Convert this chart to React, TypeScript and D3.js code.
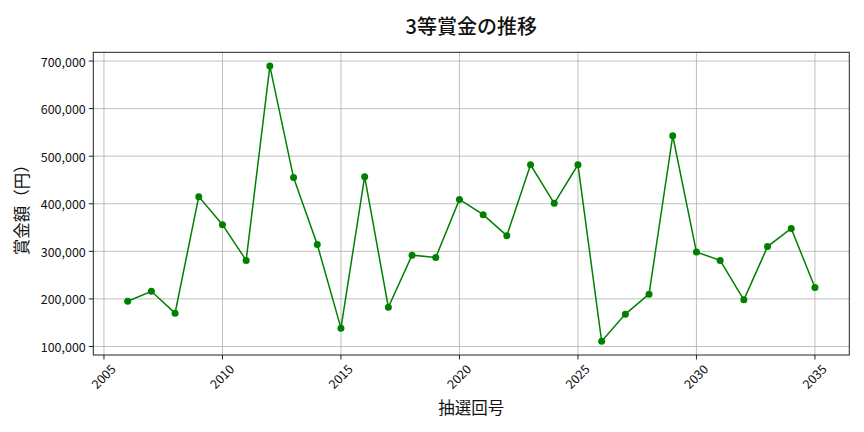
import { useRef, useEffect } from 'react';
import * as d3 from 'd3';

const years = [
  2006, 2007, 2008, 2009, 2010, 2011, 2012, 2013, 2014, 2015,
  2016, 2017, 2018, 2019, 2020, 2021, 2022, 2023, 2024, 2025,
  2026, 2027, 2028, 2029, 2030, 2031, 2032, 2033, 2034, 2035,
];
const prizes = [
  195000, 216000, 170000, 415000, 356000, 281000, 689500, 455000, 314500, 138500,
  457000, 182500, 292000, 287000, 409000, 377000, 333000, 482000, 401000, 482000,
  111000, 168000, 210000, 543000, 298500, 281000, 198000, 310000, 348000, 224000,
];
const xTicks = [2005, 2010, 2015, 2020, 2025, 2030, 2035];
const yTicks = [100000, 200000, 300000, 400000, 500000, 600000, 700000];

const W = 864;
const H = 432;
const M = { left: 93.3, right: 849.3, top: 52.3, bottom: 355 };
const FONT = '"Noto Sans CJK JP", "Noto Sans", sans-serif';

export default function App() {
  const svgRef = useRef<SVGSVGElement>(null);

  useEffect(() => {
    const svg = d3.select(svgRef.current);
    svg.selectAll('*').remove();

    const [xMin, xMax] = d3.extent(years) as [number, number];
    const xPad = (xMax - xMin) * 0.05;
    const x = d3
      .scaleLinear()
      .domain([xMin - xPad, xMax + xPad])
      .range([M.left, M.right]);

    const [yMin, yMax] = d3.extent(prizes) as [number, number];
    const yPad = (yMax - yMin) * 0.05;
    const y = d3
      .scaleLinear()
      .domain([yMin - yPad, yMax + yPad])
      .range([M.bottom, M.top]);

    svg.append('rect').attr('width', W).attr('height', H).attr('fill', '#fff');

    // Grid
    const grid = svg.append('g');
    xTicks.forEach((t) => {
      grid
        .append('line')
        .attr('x1', x(t))
        .attr('x2', x(t))
        .attr('y1', M.top)
        .attr('y2', M.bottom)
        .attr('stroke', '#b0b0b0')
        .attr('stroke-width', 0.8);
    });
    yTicks.forEach((t) => {
      grid
        .append('line')
        .attr('x1', M.left)
        .attr('x2', M.right)
        .attr('y1', y(t))
        .attr('y2', y(t))
        .attr('stroke', '#b0b0b0')
        .attr('stroke-width', 0.8);
    });

    // Line + markers
    const line = d3
      .line<number>()
      .x((_, i) => x(years[i]))
      .y((d) => y(d));
    svg
      .append('path')
      .attr('d', line(prizes))
      .attr('fill', 'none')
      .attr('stroke', '#008000')
      .attr('stroke-width', 1.5);
    prizes.forEach((v, i) => {
      svg
        .append('circle')
        .attr('cx', x(years[i]))
        .attr('cy', y(v))
        .attr('r', 3.5)
        .attr('fill', '#008000');
    });

    // Frame
    svg
      .append('rect')
      .attr('x', M.left)
      .attr('y', M.top)
      .attr('width', M.right - M.left)
      .attr('height', M.bottom - M.top)
      .attr('fill', 'none')
      .attr('stroke', '#222')
      .attr('stroke-width', 1);

    // X ticks
    xTicks.forEach((t) => {
      svg
        .append('line')
        .attr('x1', x(t))
        .attr('x2', x(t))
        .attr('y1', M.bottom)
        .attr('y2', M.bottom + 4.5)
        .attr('stroke', '#222')
        .attr('stroke-width', 1);
      svg
        .append('text')
        .attr('transform', `translate(${x(t) - 1},${M.bottom + 21}) rotate(-45)`)
        .attr('text-anchor', 'middle')
        .attr('dominant-baseline', 'central')
        .attr('font-family', FONT)
        .attr('font-size', 12.5)
        .attr('fill', '#111')
        .text(String(t));
    });

    // Y ticks
    const fmt = d3.format(',');
    yTicks.forEach((t) => {
      svg
        .append('line')
        .attr('x1', M.left - 4.5)
        .attr('x2', M.left)
        .attr('y1', y(t))
        .attr('y2', y(t))
        .attr('stroke', '#222')
        .attr('stroke-width', 1);
      svg
        .append('text')
        .attr('x', M.left - 7.5)
        .attr('y', y(t))
        .attr('text-anchor', 'end')
        .attr('dominant-baseline', 'central')
        .attr('font-family', FONT)
        .attr('font-size', 12.5)
        .attr('fill', '#111')
        .text(fmt(t));
    });

    // Title & axis labels
    svg
      .append('text')
      .attr('x', (M.left + M.right) / 2)
      .attr('y', 25)
      .attr('text-anchor', 'middle')
      .attr('dominant-baseline', 'central')
      .attr('font-family', FONT)
      .attr('font-size', 20)
      .attr('font-weight', 500)
      .attr('fill', '#111')
      .text('3等賞金の推移');

    svg
      .append('text')
      .attr('x', (M.left + M.right) / 2)
      .attr('y', 407)
      .attr('text-anchor', 'middle')
      .attr('dominant-baseline', 'central')
      .attr('font-family', FONT)
      .attr('font-size', 16.5)
      .attr('fill', '#111')
      .text('抽選回号');

    svg
      .append('text')
      .attr('transform', `translate(21,${(M.top + M.bottom) / 2 + 2}) rotate(-90)`)
      .attr('text-anchor', 'middle')
      .attr('dominant-baseline', 'central')
      .attr('font-family', FONT)
      .attr('font-size', 16.5)
      .attr('fill', '#111')
      .text('賞金額（円）');
  }, []);

  return (
    <svg
      ref={svgRef}
      width={W}
      height={H}
      style={{ position: 'absolute', left: 0, top: 0 }}
    />
  );
}
